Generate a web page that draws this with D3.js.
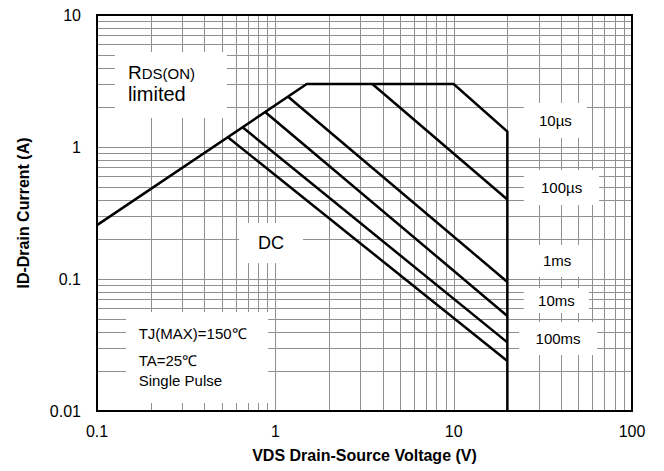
<!DOCTYPE html>
<html>
<head>
<meta charset="utf-8">
<script src="https://cdn.jsdelivr.net/npm/d3@7"></script>
<style>
  body { margin: 0; background: #fff; }
  text { font-family: Arial, "Liberation Sans", sans-serif; fill: #000; }
</style>
</head>
<body>
<script>
// axis ticks
var xTicks = [0.1, 1, 10, 100];
var yTicks = [0.01, 0.1, 1, 10];

// SOA limit: Rds(on) line, current limit, 10us line, Vds max
var limitV = [0.1, 1.5, 10, 20, 20];
var limitI = [0.256, 3, 3, 1.31, 0.01];

// pulse lines (start on limit -> end at 20V)
var pulseNames = ["100µs", "1ms", "10ms", "100ms", "DC"];
var pulseStartV = [3.5, 1.18, 0.873, 0.655, 0.54];
var pulseStartI = [3, 2.40, 1.85, 1.41, 1.19];
var pulseEndV = [20, 20, 20, 20, 20];
var pulseEndI = [0.40, 0.095, 0.0525, 0.0331, 0.0239];

// labels
var labelText = ["10µs", "100µs", "1ms", "10ms", "100ms", "DC"];
var labelV = [37.2, 40.3, 38, 37.7, 38.5, 0.946];
var labelI = [1.59, 0.493, 0.137, 0.0687, 0.0354, 0.187];
var noteLines = ["TJ(MAX)=150℃", "TA=25℃", "Single Pulse"];

var W = 664, H = 471;
var margin = {top: 15, right: 32, bottom: 60, left: 97};

var svg = d3.select("body").append("svg")
    .attr("width", W)
    .attr("height", H);

var x = d3.scaleLog().domain([0.1, 100]).range([margin.left, W - margin.right]);
var y = d3.scaleLog().domain([0.01, 10]).range([H - margin.bottom, margin.top]);

// grid at 1..9 of every decade
var xGrid = [], yGrid = [];
[0.1, 1, 10].forEach(function(d) { for (var k = 1; k < 10; k++) xGrid.push(d * k); });
[0.01, 0.1, 1].forEach(function(d) { for (var k = 1; k < 10; k++) yGrid.push(d * k); });

var grid = svg.append("g").attr("stroke", "#909090").attr("stroke-width", 1);
grid.selectAll(".vx").data(xGrid).enter().append("line")
    .attr("x1", d => Math.round(x(d)) + 0.5).attr("x2", d => Math.round(x(d)) + 0.5)
    .attr("y1", y(10)).attr("y2", y(0.01));
grid.selectAll(".hy").data(yGrid).enter().append("line")
    .attr("y1", d => Math.round(y(d)) + 0.5).attr("y2", d => Math.round(y(d)) + 0.5)
    .attr("x1", x(0.1)).attr("x2", x(100));

// white label boxes (knock out the grid)
var boxW = [63, 75, 70, 65, 78, 64];
var boxH = [35, 35, 32, 25, 33, 40];
svg.append("g").selectAll("rect").data(labelText).enter().append("rect")
    .attr("x", (d, i) => x(labelV[i]) - boxW[i] / 2)
    .attr("y", (d, i) => y(labelI[i]) - boxH[i] / 2)
    .attr("width", (d, i) => boxW[i])
    .attr("height", (d, i) => boxH[i])
    .attr("fill", "#fff");

// Rds(on) box
var rx = x(0.126), ry = y(5.245);
svg.append("rect").attr("x", rx).attr("y", ry).attr("width", 112).attr("height", 66).attr("fill", "#fff");
// notes box
var nx = x(0.1454), ny = y(0.0562);
svg.append("rect").attr("x", nx).attr("y", ny).attr("width", 142).attr("height", 91).attr("fill", "#fff");

// frame
svg.append("rect")
    .attr("x", x(0.1)).attr("y", y(10))
    .attr("width", x(100) - x(0.1)).attr("height", y(0.01) - y(10))
    .attr("fill", "none").attr("stroke", "#000").attr("stroke-width", 2);

var line = d3.line().x(d => x(d[0])).y(d => y(d[1]));

svg.append("path")
    .attr("d", line(limitV.map((v, i) => [v, limitI[i]])))
    .attr("fill", "none").attr("stroke", "#000").attr("stroke-width", 2.5);

svg.append("g").selectAll("path").data(pulseNames).enter().append("path")
    .attr("d", (d, i) => line([[pulseStartV[i], pulseStartI[i]], [pulseEndV[i], pulseEndI[i]]]))
    .attr("fill", "none").attr("stroke", "#000").attr("stroke-width", 2.5);

// labels
svg.append("g").selectAll("text").data(labelText).enter().append("text")
    .attr("x", (d, i) => x(labelV[i]))
    .attr("y", (d, i) => y(labelI[i]))
    .attr("text-anchor", "middle")
    .attr("dy", "0.35em")
    .style("font-size", d => d == "DC" ? "18px" : "15px")
    .text(d => d);

var r = svg.append("text").attr("x", rx + 13).attr("y", ry + 27.5);
r.append("tspan").style("font-size", "19px").text("R");
r.append("tspan").style("font-size", "15px").text("DS(ON)");
svg.append("text").attr("x", rx + 13).attr("y", ry + 48.7).style("font-size", "20px").text("limited");

var noteY = [27, 54, 73.7];
svg.append("g").selectAll("text").data(noteLines).enter().append("text")
    .attr("x", nx + 12.7)
    .attr("y", (d, i) => ny + noteY[i])
    .style("font-size", "15px")
    .text(d => d);

// tick labels
svg.append("g").selectAll("text").data(xTicks).enter().append("text")
    .attr("x", d => x(d)).attr("y", y(0.01) + 26)
    .attr("text-anchor", "middle")
    .style("font-size", "16px")
    .text(d => d);
svg.append("g").selectAll("text").data(yTicks).enter().append("text")
    .attr("x", x(0.1) - 16).attr("y", d => y(d))
    .attr("dy", "0.35em")
    .attr("text-anchor", "end")
    .style("font-size", "16px")
    .text(d => d);

// axis titles
svg.append("text")
    .attr("x", (x(0.1) + x(100)) / 2).attr("y", 461)
    .attr("text-anchor", "middle")
    .style("font-size", "16px").style("font-weight", "bold")
    .text("VDS Drain-Source Voltage (V)");
svg.append("text")
    .attr("transform", "translate(29," + (y(0.01) + y(10)) / 2 + ") rotate(-90)")
    .attr("text-anchor", "middle")
    .style("font-size", "16px").style("font-weight", "bold")
    .text("ID-Drain Current (A)");
</script>
</body>
</html>
